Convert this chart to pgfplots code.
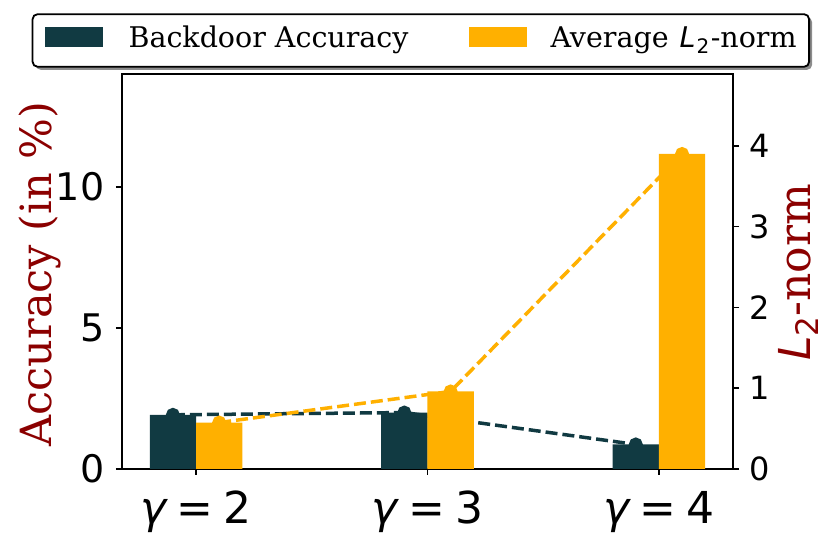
\documentclass[border=0pt]{standalone}
\usepackage{fontspec}
\setmainfont{DejaVu Serif}
\newfontfamily\dvs{DejaVu Sans}
\usepackage{pgfplots}
\pgfplotsset{compat=1.18}
\usepackage{pgfplotstable}
\usetikzlibrary{shadows}
\makeatletter
\tikzset{no preactions/.code={\let\tikz@preactions\pgfutil@empty}}
\makeatother
\definecolor{dteal}{RGB}{17,58,66}
\definecolor{amber}{RGB}{255,176,0}
\definecolor{lblred}{RGB}{139,0,0}

\pgfplotstableread{
g acc l2
0 1.92 0.575
1 2.00 0.96
2 0.87 3.90
}\datatab

\newcommand{\gl}[1]{{\itshape γ}\hspace{0.23em}=\hspace{0.23em}#1}

\begin{document}
\begin{tikzpicture}
\path[use as bounding box] (0pt,0pt) rectangle (831pt,543pt);
\begin{axis}[
  at={(122pt,74pt)}, anchor=south west, scale only axis,
  width=611pt, height=395pt,
  xmin=-0.32, xmax=2.32, ymin=0, ymax=14,
  xtick={0,1,2}, xticklabels={\gl{2},\gl{3},\gl{4}},
  ytick={0,5,10}, yticklabels={0,5,10},
  tick pos=left,
  tick align=outside,
  major tick length=6pt,
  every tick/.style={black, line width=1.5pt},
  axis line style={line width=1.8pt},
  xticklabel style={font=\dvs\fontsize{44}{46}\selectfont, inner sep=0pt, anchor=north, yshift=-16pt},
  yticklabel style={font=\dvs\fontsize{38}{40}\selectfont, inner sep=0pt, anchor=east, xshift=-11.5pt},
]
\addplot[dteal, line width=3.5pt, dash pattern=on 12pt off 5pt, xshift=-23.14pt,
  mark=*, mark size=5.2pt, mark options={solid, draw=none, fill=dteal}]
  table[x=g, y=acc]{\datatab};
\addplot[ybar, bar width=46.3pt, bar shift=-23.14pt, fill=dteal, draw=none]
  table[x=g, y=acc]{\datatab};
\end{axis}
\begin{axis}[
  at={(122pt,74pt)}, anchor=south west, scale only axis,
  width=611pt, height=395pt,
  xmin=-0.32, xmax=2.32, ymin=0, ymax=4.89,
  axis y line*=right, hide x axis,
  ytick={0,1,2,3,4}, yticklabels={0,1,2,3,4},
  tick align=outside,
  major tick length=6pt,
  every tick/.style={black, line width=1.5pt},
  axis line style={line width=1.8pt},
  yticklabel style={font=\dvs\fontsize{32}{34}\selectfont, inner sep=0pt, anchor=west, xshift=10pt},
  legend columns=2,
  legend style={at={(-0.1478,1.1537)}, anchor=north west, draw=black, line width=1.8pt,
    rounded corners=5pt, inner xsep=12.5pt, inner ysep=12.3pt,
    font=\fontsize{28.5}{30}\selectfont,
    nodes={no preactions, inner sep=0pt, anchor=base, text height=21.5pt, text depth=6.5pt},
    drop shadow={shadow xshift=3pt, shadow yshift=-3pt, fill=black!45, opacity=1}},
  /tikz/every odd column/.append style={column sep=24pt},
  /tikz/every even column/.append style={column sep=60pt},
  legend image code/.code={\fill[no preactions, #1, draw=none, sharp corners] (0pt,0.6pt) rectangle (58pt,20.6pt);},
]
\addlegendimage{fill=dteal}
\addlegendentry{\hspace{1.5pt}Backdoor Accuracy}
\addplot[amber, line width=3.5pt, dash pattern=on 12pt off 5pt, xshift=23.14pt,
  mark=*, mark size=5.2pt, mark options={solid, draw=none, fill=amber}, forget plot]
  table[x=g, y=l2]{\datatab};
\addplot[ybar, bar width=46.3pt, bar shift=23.14pt, fill=amber, draw=none]
  table[x=g, y=l2]{\datatab};
\addlegendentry{Average\hspace{2pt} {\dvs\itshape L}\hspace{1pt}\raisebox{-0.2em}{\dvs\fontsize{20}{20}\selectfont 2}\hspace{1.5pt}-norm}
\end{axis}
\node[rotate=90, anchor=base, text=lblred, font=\fontsize{43}{45}\selectfont] at (51.7pt,269pt) {Accuracy (in \%)};
\node[rotate=90, anchor=base, text=lblred, font=\fontsize{44}{46}\selectfont] at (810pt,270.5pt) {{\dvs\itshape L}\raisebox{-0.2em}{\dvs\fontsize{31}{31}\selectfont 2}-norm};
\end{tikzpicture}
\end{document}
